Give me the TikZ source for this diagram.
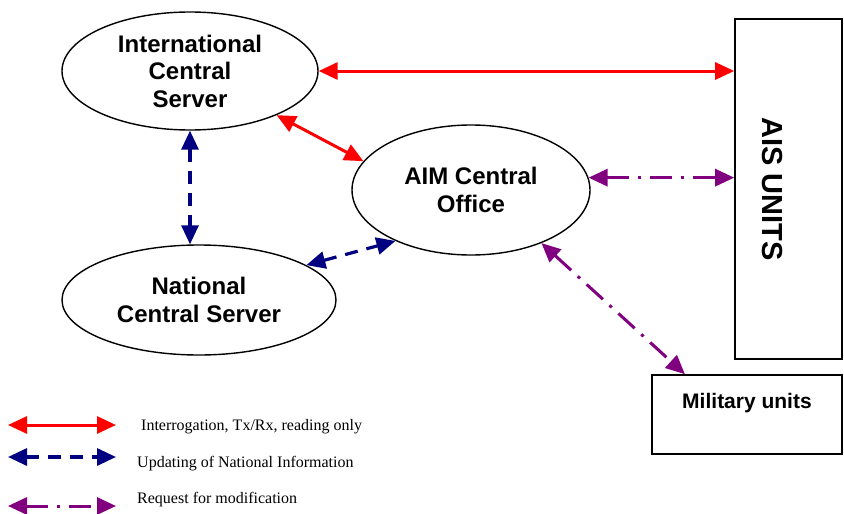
\documentclass[tikz,border=0pt]{standalone}
\usepackage{fontspec}
\setmainfont{Liberation Serif}
\setsansfont{Liberation Sans}
\usetikzlibrary{arrows.meta,
                shapes.geometric}
\definecolor{rxred}{RGB}{255,0,0}
\definecolor{updblue}{RGB}{0,0,128}
\definecolor{reqpurple}{RGB}{128,0,128}

\begin{document}
\begin{tikzpicture}[x=1pt, y=-1pt,
     server/.style = {ellipse, draw, line width=1.4pt, inner sep=0pt,
                      minimum width=#1, align=center,
                      font=\fontsize{24}{27.5}\selectfont\sffamily\bfseries},
       unit/.style = {rectangle, draw, line width=1.6pt, align=center,
                      font=\fontsize{21}{27}\selectfont\sffamily\bfseries},
         rx/.style = {draw=rxred, line width=3pt,
                      {Triangle[length=19pt,width=17pt]}-{Triangle[length=19pt,width=17pt]}},
        upd/.style = {draw=updblue, line width=3.2pt, dash pattern=on 13pt off 9pt,
                      {Triangle[length=19pt,width=17pt]}-{Triangle[length=19pt,width=17pt]}},
        req/.style = {draw=reqpurple, line width=3pt,
                      dash pattern=on 22pt off 9pt on 3pt off 9pt,
                      {Triangle[length=19pt,width=17pt]}-{Triangle[length=19pt,width=17pt]}},
     legtxt/.style = {anchor=west, inner sep=0pt, font=\fontsize{16}{18}\selectfont}
                        ]
\useasboundingbox (0,0) rectangle (844,514);
\node (ics) at (190,71) [server=256, minimum height=118] {International\\Central\\Server};
\node (ncs) at (199,300) [server=274, minimum height=110] {National\\Central Server};
\node (aim) at (471,190) [server=238, minimum height=130] {AIM Central\\Office};
\node (ais) at (788.5,189) [unit, minimum width=107, minimum height=340] {};
\node at (772,189) [rotate=-90, font=\fontsize{29}{30}\selectfont\sffamily\bfseries] {AIS UNITS};
\node (mil) at (747,414.5) [unit, minimum width=190, minimum height=79] {Military units\\\mbox{}};

% legend
\coordinate (k1a) at (8,425);
\coordinate (k1b) at (116,425);
\coordinate (k2a) at (8,457);
\coordinate (k2b) at (116,457);
\coordinate (k3a) at (8,506);
\coordinate (k3b) at (116,506);
\node (t1) at (137,427) [legtxt] {\ Interrogation, Tx/Rx, reading only};
\node (t2) at (137,464) [legtxt] {Updating of National Information};
\node (t3) at (137,500) [legtxt] {Request for modification};

\path   (ics.east) edge[rx] (ics.east -| ais.west)
        (ics.-27) edge[rx] (aim.165)
        (ics.south) edge[upd] (ics.south |- ncs.north)
        (ncs.18) edge[upd] (aim.214)
        (aim.6) edge[req] (aim.6 -| ais.west)
        (aim.-37) edge[req] (mil.147)
        (k1a) edge[rx] (k1b)
        (k2a) edge[upd] (k2b)
        (k3a) edge[req] (k3b);
\end{tikzpicture}
\end{document}
